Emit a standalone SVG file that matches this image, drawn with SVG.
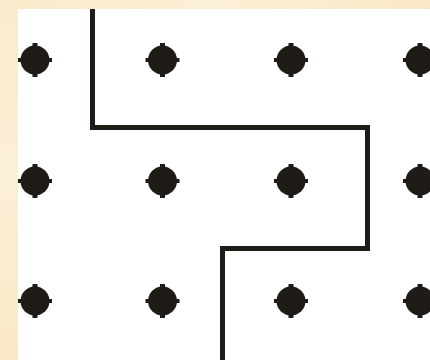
<svg xmlns="http://www.w3.org/2000/svg" xmlns:xlink="http://www.w3.org/1999/xlink" width="430" height="360" viewBox="0 0 430 360">
  <defs>
    <linearGradient id="beigeL" x1="0" y1="0" x2="0" y2="1">
      <stop offset="0" stop-color="#f9ebcd"/>
      <stop offset="0.5" stop-color="#fbefd6"/>
      <stop offset="1" stop-color="#f8e8c6"/>
    </linearGradient>
    <linearGradient id="beigeT" x1="0" y1="0" x2="1" y2="0">
      <stop offset="0" stop-color="#f9eacb"/>
      <stop offset="0.5" stop-color="#fbefd5"/>
      <stop offset="1" stop-color="#f8e8c7"/>
    </linearGradient>
    <g id="dot">
      <circle cx="0" cy="0" r="14.5"/>
      <rect x="-2.5" y="-17" width="5" height="34"/>
      <rect x="-17" y="-2" width="34" height="4"/>
    </g>
    <style>
      .dots { fill: #1f1b17; }
      .path { fill: none; stroke: #1f1b17; stroke-width: 5; stroke-linejoin: miter; stroke-linecap: butt; }
    </style>
  </defs>
  <rect x="0" y="0" width="430" height="360" fill="#ffffff"/>
  <g id="dots" class="dots">
    <use xlink:href="#dot" x="35" y="60"/>
    <use xlink:href="#dot" x="162.5" y="60"/>
    <use xlink:href="#dot" x="291" y="60"/>
    <use xlink:href="#dot" x="420" y="60"/>
    <use xlink:href="#dot" x="35" y="181"/>
    <use xlink:href="#dot" x="162.5" y="181"/>
    <use xlink:href="#dot" x="291" y="181"/>
    <use xlink:href="#dot" x="420" y="181"/>
    <use xlink:href="#dot" x="35" y="301"/>
    <use xlink:href="#dot" x="162.5" y="301"/>
    <use xlink:href="#dot" x="291" y="301"/>
    <use xlink:href="#dot" x="420" y="301"/>
  </g>
  <g id="connectors">
    <polyline class="path" points="92.5,9 92.5,127.5 367.5,127.5 367.5,248.5 222.5,248.5 222.5,360"/>
  </g>
  <rect x="0" y="0" width="430" height="9" fill="url(#beigeT)"/>
  <rect x="0" y="0" width="18" height="360" fill="url(#beigeL)"/>
</svg>
